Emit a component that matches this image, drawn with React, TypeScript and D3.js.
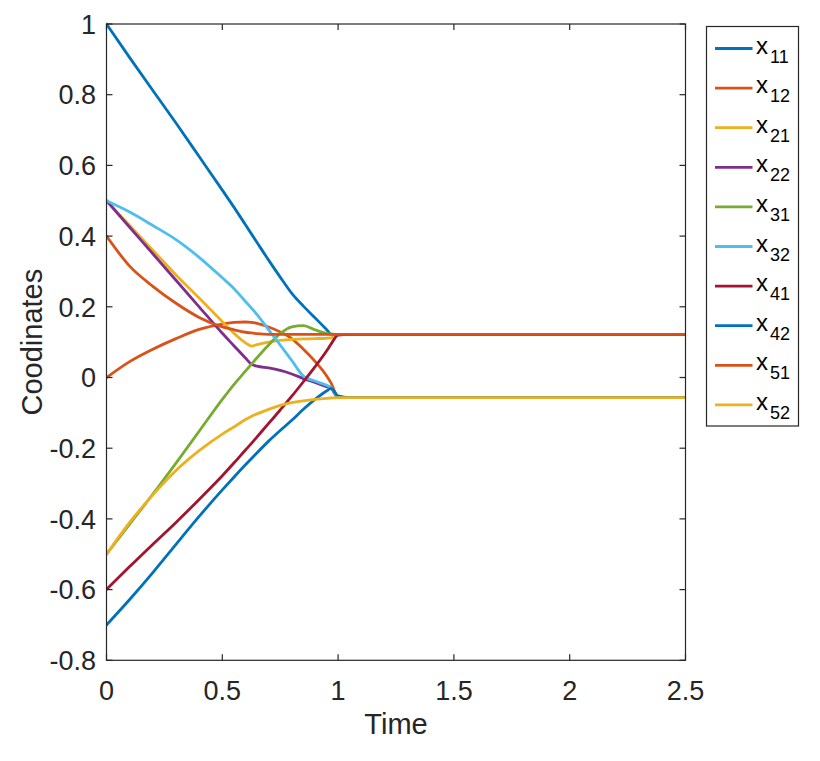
import React from 'react';
import * as d3 from 'd3';

// time grid shared by all series
const T = [0, 0.1, 0.2, 0.3, 0.4, 0.5, 0.55, 0.6, 0.625, 0.65, 0.7, 0.75, 0.8, 0.85, 0.9, 0.95, 0.97, 1.0, 1.05, 1.5, 2.0, 2.5];

const x11 = [1.0, 0.905, 0.812, 0.72, 0.625, 0.53, 0.482, 0.432, 0.407, 0.382, 0.332, 0.284, 0.238, 0.202, 0.169, 0.136, 0.123, 0.122, 0.122, 0.122, 0.122, 0.122];
const x12 = [0, 0.045, 0.08, 0.11, 0.136, 0.151, 0.156, 0.157, 0.156, 0.153, 0.143, 0.129, 0.11, 0.08, 0.046, 0.005, -0.016, -0.055, -0.057, -0.057, -0.057, -0.057];
const x21 = [0.5, 0.43, 0.36, 0.29, 0.225, 0.158, 0.125, 0.098, 0.089, 0.093, 0.1, 0.105, 0.108, 0.109, 0.11, 0.111, 0.112, 0.122, 0.122, 0.122, 0.122, 0.122];
const x22 = [0.5, 0.425, 0.35, 0.275, 0.2, 0.125, 0.09, 0.055, 0.038, 0.032, 0.027, 0.02, 0.01, -0.003, -0.014, -0.026, -0.031, -0.056, -0.057, -0.057, -0.057, -0.057];
const x31 = [-0.5, -0.415, -0.33, -0.242, -0.152, -0.062, -0.02, 0.018, 0.037, 0.056, 0.092, 0.124, 0.143, 0.147, 0.135, 0.125, 0.123, 0.122, 0.122, 0.122, 0.122, 0.122];
const x32 = [0.5, 0.468, 0.43, 0.39, 0.34, 0.282, 0.252, 0.215, 0.197, 0.178, 0.135, 0.092, 0.048, 0.004, -0.01, -0.022, -0.028, -0.055, -0.057, -0.057, -0.057, -0.057];
const x41 = [-0.6, -0.535, -0.472, -0.41, -0.345, -0.278, -0.242, -0.205, -0.187, -0.168, -0.13, -0.092, -0.053, -0.012, 0.03, 0.075, 0.095, 0.12, 0.122, 0.122, 0.122, 0.122];
const x42 = [-0.7, -0.628, -0.552, -0.472, -0.393, -0.318, -0.282, -0.247, -0.23, -0.213, -0.18, -0.15, -0.121, -0.09, -0.062, -0.038, -0.031, -0.052, -0.057, -0.057, -0.057, -0.057];
const x51 = [0.4, 0.315, 0.258, 0.21, 0.17, 0.143, 0.135, 0.128, 0.126, 0.124, 0.122, 0.122, 0.122, 0.122, 0.122, 0.122, 0.122, 0.122, 0.122, 0.122, 0.122, 0.122];
const x52 = [-0.5, -0.41, -0.332, -0.263, -0.207, -0.16, -0.14, -0.119, -0.11, -0.103, -0.09, -0.079, -0.071, -0.066, -0.062, -0.059, -0.058, -0.057, -0.057, -0.057, -0.057, -0.057];

const seriesValues = [x11, x12, x21, x22, x31, x32, x41, x42, x51, x52];
const seriesSubs = ['11', '12', '21', '22', '31', '32', '41', '42', '51', '52'];
const colors = ['#0072BD', '#D95319', '#EDB120', '#7E2F8E', '#77AC30', '#4DBEEE', '#A2142F', '#0072BD', '#D95319', '#EDB120'];

const xTicks = [0, 0.5, 1, 1.5, 2, 2.5];
const xTickLabels = ['0', '0.5', '1', '1.5', '2', '2.5'];
const yTicks = [-0.8, -0.6, -0.4, -0.2, 0, 0.2, 0.4, 0.6, 0.8, 1];
const yTickLabels = ['-0.8', '-0.6', '-0.4', '-0.2', '0', '0.2', '0.4', '0.6', '0.8', '1'];

const FONT = '"Liberation Sans", Arial, Helvetica, sans-serif';
const AX = '#262626';

export default function App() {
  const left = 106.5, right = 685.5, top = 24, bottom = 660.3;
  const x = d3.scaleLinear().domain([0, 2.5]).range([left, right]);
  const y = d3.scaleLinear().domain([-0.8, 1]).range([bottom, top]);
  const line = d3
    .line<number>()
    .x((_, i) => x(T[i]))
    .y((d) => y(d))
    .curve(d3.curveMonotoneX);
  const tl = 6;
  const lw = 2.8;

  const legX = 706.5, legY = 26.5, legW = 92, legH = 399.5;
  const legRow0 = 48.5, legStep = 39.6;

  return (
    <svg width={820} height={761} style={{ position: 'absolute', left: 0, top: 0, background: '#fff' }}>
      <rect x={0} y={0} width={820} height={761} fill="#fff" />
      <defs>
        <clipPath id="plotclip">
          <rect x={left} y={top - 2} width={right - left} height={bottom - top + 4} />
        </clipPath>
      </defs>
      <g clipPath="url(#plotclip)">
        {seriesValues.map((vals, i) => (
          <path key={i} d={line(vals) || ''} fill="none" stroke={colors[i]} strokeWidth={lw} strokeLinejoin="round" strokeLinecap="round" />
        ))}
      </g>
      {/* axes box */}
      <rect x={left} y={top} width={right - left} height={bottom - top} fill="none" stroke={AX} strokeWidth={1.2} />
      {xTicks.map((t, i) => (
        <g key={'xt' + i}>
          <line x1={x(t)} x2={x(t)} y1={bottom} y2={bottom - tl} stroke={AX} strokeWidth={1.2} />
          <line x1={x(t)} x2={x(t)} y1={top} y2={top + tl} stroke={AX} strokeWidth={1.2} />
          <text x={x(t)} y={700} textAnchor="middle" fontFamily={FONT} fontSize={27} fill={AX}>
            {xTickLabels[i]}
          </text>
        </g>
      ))}
      {yTicks.map((t, i) => (
        <g key={'yt' + i}>
          <line x1={left} x2={left + tl} y1={y(t)} y2={y(t)} stroke={AX} strokeWidth={1.2} />
          <line x1={right} x2={right - tl} y1={y(t)} y2={y(t)} stroke={AX} strokeWidth={1.2} />
          <text x={96} y={y(t)} dy="0.36em" textAnchor="end" fontFamily={FONT} fontSize={27} fill={AX}>
            {yTickLabels[i]}
          </text>
        </g>
      ))}
      <text x={(left + right) / 2} y={734} textAnchor="middle" fontFamily={FONT} fontSize={29} fill={AX}>
        Time
      </text>
      <text transform={`translate(42, ${(top + bottom) / 2}) rotate(-90)`} textAnchor="middle" fontFamily={FONT} fontSize={29} fill={AX}>
        Coodinates
      </text>
      {/* legend */}
      <rect x={legX} y={legY} width={legW} height={legH} fill="#fff" stroke={AX} strokeWidth={1.2} />
      {seriesSubs.map((s, i) => {
        const cy = legRow0 + i * legStep;
        return (
          <g key={'lg' + i}>
            <line x1={715} x2={752.5} y1={cy} y2={cy} stroke={colors[i]} strokeWidth={lw} />
            <text x={756} y={cy + 5} fontFamily={FONT} fontSize={24} fill="#000">
              x
              <tspan x={770} y={cy + 14} fontSize={18}>
                {s}
              </tspan>
            </text>
          </g>
        );
      })}
    </svg>
  );
}
